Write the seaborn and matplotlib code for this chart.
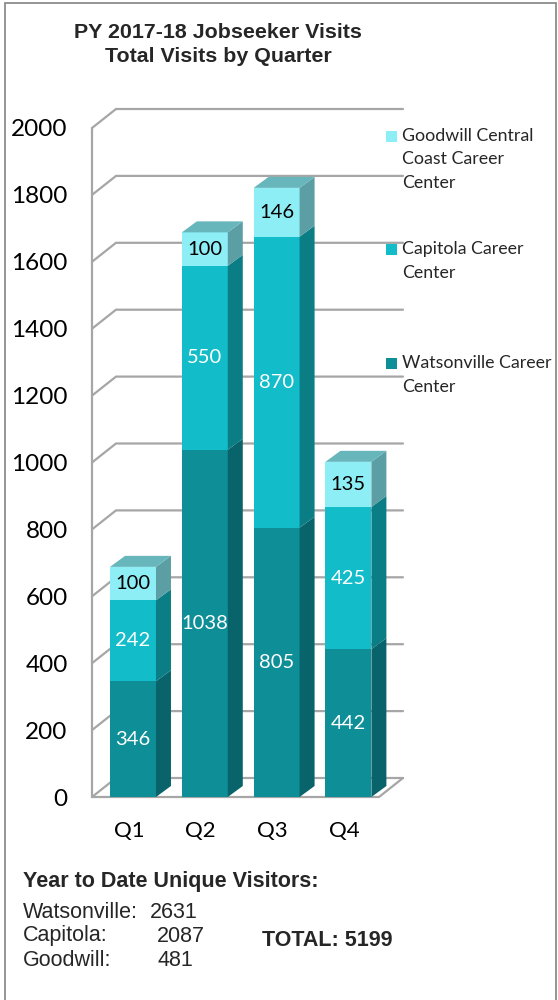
import matplotlib
matplotlib.use("Agg")
import matplotlib.pyplot as plt
import matplotlib.transforms as mtransforms
import seaborn as sns
import pandas as pd
from matplotlib.patches import Polygon, Rectangle

# Datos del gráfico
quarters = ["Q1", "Q2", "Q3", "Q4"]
watsonville = [346, 1038, 805, 442]
capitola = [242, 550, 870, 425]
goodwill = [100, 100, 146, 135]
yticks = list(range(0, 2001, 200))

legend_lines = [
    ["Goodwill Central", "Coast Career", "Center"],
    ["Capitola Career", "Center"],
    ["Watsonville Career", "Center"],
]

ytd_names = ["Watsonville:", "Capitola:", "Goodwill:"]
ytd_values = [2631, 2087, 481]
ytd_total = 5199

# colores: frente, lado, tapa
c_wat = ("#0E8E97", "#08646A")
c_cap = ("#12BCC8", "#0B7D85")
c_good = ("#8EEEF5", "#5B9EA3", "#66B6BC")
grid_color = "#A6A6A6"

W, H = 558, 1000
sns.set_theme(style="white")
plt.rcParams["font.family"] = ["Lato", "DejaVu Sans"]

fig = plt.figure(figsize=(W / 100, H / 100), dpi=100)


def fx(px):
    return px / W


def fy(py):
    return 1 - py / H


left, right, bottom, top = 92, 379, 797, 128
ax = fig.add_axes([fx(left), fy(bottom), fx(right - left), (bottom - top) / H])
ax.set_facecolor("none")

df = pd.DataFrame({"quarter": quarters, "wat": watsonville, "cap": capitola, "good": goodwill})
df["w_top"] = df["wat"]
df["c_top"] = df["wat"] + df["cap"]
df["g_top"] = df["c_top"] + df["good"]

layer_patches = {}
for col, color in [("g_top", c_good[0]), ("c_top", c_cap[0]), ("w_top", c_wat[0])]:
    n0 = len(ax.patches)
    sns.barplot(data=df, x="quarter", y=col, color=color, saturation=1, width=0.64,
                ax=ax, zorder=3, edgecolor="none", linewidth=0)
    layer_patches[col] = ax.patches[n0:]

xlo, xhi = -0.571, 3.426
ax.set_xlim(xlo, xhi)
ax.set_ylim(0, 2000)
ppx = (right - left) / (xhi - xlo)
ppy = (bottom - top) / 2000

# pared del fondo y piso (perspectiva)
ddx, ddy = 24 / ppx, 19 / ppy
glw = 1.6
for v in yticks:
    ax.plot([xlo, xlo + ddx, xhi + ddx], [v, v + ddy, v + ddy], color=grid_color,
            lw=glw, zorder=1, clip_on=False, solid_joinstyle="miter")
ax.plot([xlo, xlo], [0, 2000], color=grid_color, lw=glw, zorder=1, clip_on=False)
ax.plot([xlo, xhi, xhi + ddx], [0, 0, ddy], color=grid_color, lw=glw, zorder=1, clip_on=False)

# caras laterales y tapas de las barras
bdx, bdy = 15 / ppx, 11 / ppy
for i, p in enumerate(layer_patches["g_top"]):
    x0 = p.get_x()
    w = p.get_width()
    xr = x0 + w
    segs = [
        (0, watsonville[i], c_wat[1]),
        (watsonville[i], watsonville[i] + capitola[i], c_cap[1]),
        (watsonville[i] + capitola[i], p.get_height(), c_good[1]),
    ]
    for y0, y1, col in segs:
        ax.add_patch(Polygon([(xr, y0), (xr, y1), (xr + bdx, y1 + bdy), (xr + bdx, y0 + bdy)],
                             closed=True, facecolor=col, edgecolor="none", zorder=3, clip_on=False))
    t = p.get_height()
    ax.add_patch(Polygon([(x0, t), (xr, t), (xr + bdx, t + bdy), (x0 + bdx, t + bdy)],
                         closed=True, facecolor=c_good[2], edgecolor="none", zorder=3, clip_on=False))

    cx = x0 + w / 2
    labels = [
        (watsonville[i] / 2, watsonville[i], "white"),
        (watsonville[i] + capitola[i] / 2, capitola[i], "white"),
        (watsonville[i] + capitola[i] + goodwill[i] / 2, goodwill[i], "black"),
    ]
    for yy, val, tc in labels:
        ax.text(cx, yy, str(val), ha="center", va="center", color=tc, fontsize=14.5, zorder=5)

for s in ax.spines.values():
    s.set_visible(False)
ax.grid(False)
ax.set_xlabel("")
ax.set_ylabel("")
ax.set_yticks(yticks)
ax.set_yticklabels([str(v) for v in yticks])
ax.tick_params(axis="y", length=0, pad=17.5, labelsize=17.5, colors="black")
ax.tick_params(axis="x", length=0, pad=17, labelsize=16, colors="black")
shift = mtransforms.ScaledTranslation(-4 / 100, 0, fig.dpi_scale_trans)
for lbl in ax.get_xticklabels():
    lbl.set_transform(lbl.get_transform() + shift)

# título
fig.text(fx(218), fy(32), "PY 2017-18 Jobseeker Visits", ha="center", va="center",
         fontsize=15.4, fontweight="bold", family="Liberation Sans")
fig.text(fx(218), fy(57), "Total Visits by Quarter", ha="center", va="center",
         fontsize=15.4, fontweight="bold", family="Liberation Sans")

# leyenda
legend_colors = [c_good[0], c_cap[0], c_wat[0]]
legend_y = [136, 249, 363]
for lines, col, y in zip(legend_lines, legend_colors, legend_y):
    fig.add_artist(Rectangle((fx(386), fy(y + 5.5)), fx(11), 11 / H, facecolor=col,
                             edgecolor="none", transform=fig.transFigure))
    for k, ln in enumerate(lines):
        fig.text(fx(402), fy(y + k * 23.5), ln, ha="left", va="center", fontsize=12.8)

# texto inferior
fig.text(fx(23), fy(881), "Year to Date Unique Visitors:", ha="left", va="center",
         fontsize=15.5, fontweight="bold", family="Liberation Sans")
num_x = [150, 157, 158]
line_y = [913, 936, 960]
for k, (nm, val) in enumerate(zip(ytd_names, ytd_values)):
    yy = fy(line_y[k])
    fig.text(fx(23), yy, nm, ha="left", va="center", fontsize=15.5, family="Liberation Sans")
    fig.text(fx(num_x[k]), yy, str(val), ha="left", va="center", fontsize=15.5,
             family="Liberation Sans")
fig.text(fx(262), fy(940), f"TOTAL: {ytd_total}", ha="left", va="center",
         fontsize=15.5, fontweight="bold", family="Liberation Sans")

# marco exterior
fig.add_artist(Rectangle((fx(5), -0.01), fx(551), 1.007, facecolor="none",
                         edgecolor="#8C8C8C", lw=1.3, transform=fig.transFigure))

fig.savefig("out.png", dpi=100)
